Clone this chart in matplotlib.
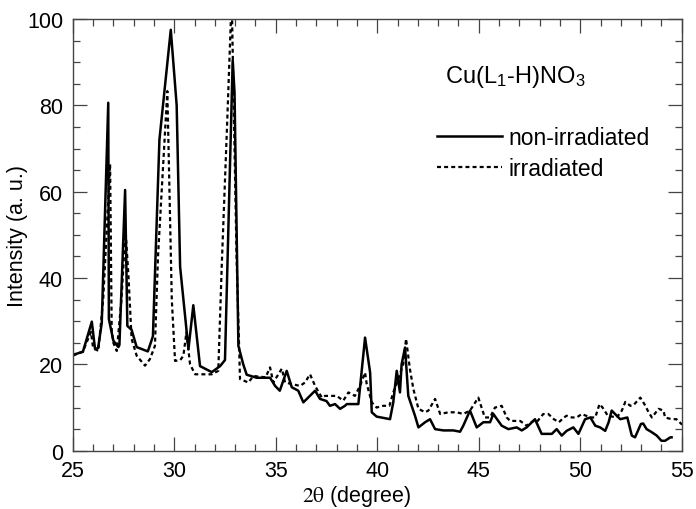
import matplotlib
matplotlib.use("Agg")
import matplotlib.pyplot as plt
from matplotlib.ticker import MultipleLocator

plt.rcParams['font.family'] = ['Liberation Sans', 'DejaVu Sans']
plt.rcParams['mathtext.fontset'] = 'stix'

# non-irradiated (solid)
x_non = [25.0, 25.5, 25.94, 26.1, 26.25, 26.43, 26.75, 26.78, 27.0, 27.25, 27.3, 27.58, 27.69,
         27.9, 28.15, 28.7, 28.95, 29.27, 29.83, 30.12, 30.29, 30.7, 30.94, 31.27, 31.85, 32.26,
         32.5, 32.88, 32.97, 33.16, 33.4, 33.57, 34.06, 34.72, 34.97, 35.2, 35.54, 35.79, 36.11,
         36.36, 36.94, 37.18, 37.5, 37.67, 37.92, 38.17, 38.41, 38.5, 39.07, 39.4, 39.65, 39.73,
         39.97, 40.63, 40.79, 40.96, 41.12, 41.2, 41.37, 41.53, 41.86, 42.03, 42.36, 42.6, 42.85,
         43.26, 43.75, 44.08, 44.24, 44.57, 44.9, 45.23, 45.56, 45.72, 46.13, 46.46, 46.87, 47.12,
         47.36, 47.77, 48.1, 48.6, 48.84, 49.09, 49.33, 49.66, 49.91, 50.24, 50.5, 50.74, 50.98,
         51.23, 51.4, 51.55, 51.8, 51.97, 52.32, 52.54, 52.7, 52.99, 53.1, 53.27, 53.52, 53.77,
         54.0, 54.18, 54.44, 54.5]
y_non = [22.2, 22.9, 29.9, 23.5, 23.8, 29.6, 80.6, 30.5, 25.5, 24.0, 24.5, 60.4, 28.9,
         28.0, 24.0, 23.0, 26.5, 72.0, 97.5, 80.0, 42.6, 23.5, 33.7, 19.6, 18.2, 19.6,
         21.0, 90.4, 83.0, 24.3, 20.0, 17.6, 16.9, 16.9, 15.0, 13.9, 18.5, 14.7, 13.9,
         11.2, 13.9, 12.0, 11.5, 10.4, 10.8, 9.7, 10.4, 10.8, 10.8, 26.2, 18.1, 8.9,
         7.9, 7.3, 11.2, 18.5, 13.5, 20.0, 23.9, 12.7, 8.1, 5.4, 6.6, 7.3, 5.0,
         4.7, 4.7, 4.4, 5.8, 9.3, 5.4, 6.6, 6.6, 8.5, 5.8, 5.0, 5.4, 4.7,
         5.4, 7.3, 3.9, 3.9, 5.0, 3.5, 4.6, 5.4, 3.9, 7.3, 7.7, 5.8, 5.4,
         4.6, 6.6, 9.3, 8.1, 7.3, 7.7, 3.5, 3.1, 6.2, 6.3, 5.0, 4.3, 3.5,
         2.3, 2.3, 3.1, 3.1]

# irradiated (dashed)
x_irr = [25.0, 25.5, 25.9, 26.0, 26.26, 26.5, 26.84, 26.92, 27.0, 27.17, 27.4, 27.6, 27.75,
         27.9, 28.15, 28.56, 28.8, 29.05, 29.2, 29.66, 29.88, 30.04, 30.3, 30.45, 30.6, 30.78,
         31.03, 31.85, 32.17, 32.34, 32.6, 32.83, 33.07, 33.24, 33.65, 33.9, 34.5, 34.72, 34.88,
         35.3, 35.46, 36.2, 36.44, 36.69, 36.94, 37.27, 37.43, 38.0, 38.33, 38.58, 38.9, 39.15,
         39.4, 39.48, 39.73, 39.97, 40.3, 40.6, 40.79, 41.04, 41.28, 41.42, 41.61, 41.78, 42.03,
         42.36, 42.52, 42.85, 43.1, 43.51, 43.92, 44.24, 44.57, 44.98, 45.3, 45.56, 45.8, 46.13,
         46.38, 46.55, 47.04, 47.36, 47.69, 47.85, 48.18, 48.43, 48.7, 48.95, 49.2, 49.33, 49.58,
         49.83, 50.07, 50.5, 50.74, 50.95, 51.1, 51.36, 51.8, 52.05, 52.22, 52.47, 52.63, 52.96,
         53.16, 53.37, 53.53, 53.86, 54.1, 54.18, 54.5, 54.74, 54.98, 55.2]
y_irr = [22.0, 23.0, 27.5, 23.9, 23.1, 35.0, 66.4, 28.0, 25.0, 23.1, 35.0, 51.3, 40.0,
         25.9, 22.0, 19.7, 21.2, 24.3, 45.0, 83.3, 35.0, 20.8, 21.0, 22.0, 27.4, 20.0,
         17.7, 17.7, 18.5, 42.8, 75.0, 105.0, 45.0, 16.6, 15.8, 17.3, 17.0, 19.3, 15.8,
         19.0, 15.8, 15.0, 15.8, 17.7, 15.0, 12.3, 12.7, 12.7, 11.6, 13.5, 12.7, 15.0,
         18.1, 15.5, 11.2, 10.0, 10.4, 10.4, 13.5, 16.6, 20.0, 25.9, 18.9, 14.3, 9.7,
         8.9, 9.3, 12.0, 8.5, 8.9, 8.9, 8.5, 9.3, 12.3, 7.7, 7.7, 10.0, 10.4,
         7.7, 6.9, 6.9, 5.8, 6.9, 6.6, 8.5, 8.5, 7.3, 6.6, 7.7, 8.1, 7.7,
         7.7, 8.5, 7.7, 7.7, 10.8, 10.0, 8.1, 7.7, 9.3, 11.3, 10.4, 10.6, 12.3,
         10.8, 8.9, 7.7, 9.7, 9.3, 7.7, 7.3, 7.3, 6.2, 6.0]

fig = plt.figure(figsize=(6.96, 5.10), dpi=100)
ax = fig.add_axes([0.1045, 0.1143, 0.875, 0.8465])

ax.plot(x_non, y_non, color='black', lw=1.8, label='non-irradiated')
ax.plot(x_irr, y_irr, color='black', lw=1.6, linestyle=(0, (1.8, 1.4)), label='irradiated')

ax.set_xlim(25, 55)
ax.set_ylim(0, 100)
ax.xaxis.set_major_locator(MultipleLocator(5))
ax.xaxis.set_minor_locator(MultipleLocator(1))
ax.yaxis.set_major_locator(MultipleLocator(20))
ax.yaxis.set_minor_locator(MultipleLocator(5))
ax.tick_params(which='both', direction='in', top=True, right=True, color='#444444', width=0.9)
ax.tick_params(which='major', length=10, labelsize=15.5, pad=7)
ax.tick_params(which='minor', length=5)
for s in ax.spines.values():
    s.set_color('#444444')
    s.set_linewidth(1.0)

ax.set_ylabel('Intensity (a. u.)', fontsize=15.5, labelpad=-1)
fig.text(357 / 696, 1 - 497 / 510, r'$\mathrm{2\theta}$ (degree)', fontsize=15.5,
         ha='center', va='center')

ax.text(515 / 696, 1 - 77 / 510, 'Cu(L$_\\mathregular{1}$-H)NO$_\\mathregular{3}$',
        transform=fig.transFigure, fontsize=17, ha='center', va='center')

ax.legend(loc='upper left', bbox_to_anchor=(426 / 696, 1 - 116 / 510),
          bbox_transform=fig.transFigure, frameon=False, fontsize=16.5,
          handlelength=2.8, handletextpad=0.3, labelspacing=0.35, borderpad=0)

fig.savefig('out.png', dpi=100)
